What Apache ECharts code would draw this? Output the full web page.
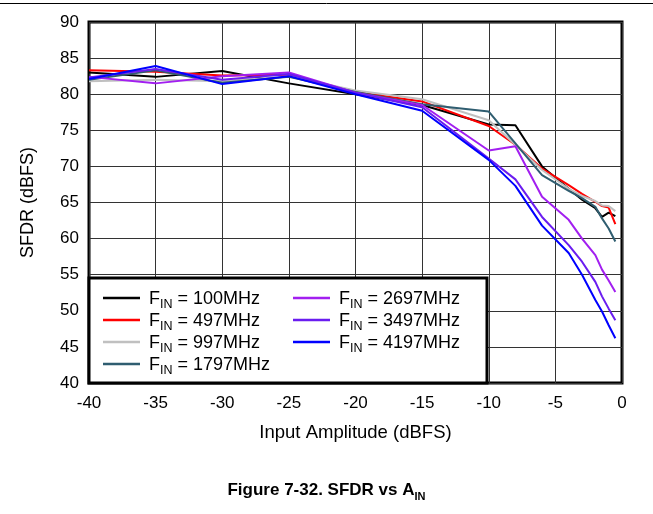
<!DOCTYPE html>
<html>
<head>
<meta charset="utf-8">
<script src="https://cdn.jsdelivr.net/npm/echarts@6/dist/echarts.min.js"></script>
<style>
html,body{margin:0;padding:0;background:#fff;}
#c{width:653px;height:514px;}
</style>
</head>
<body>
<div id="c"></div>
<script>
// Input amplitude (dBFS) sample points
const xValues = [-40, -35, -30, -25, -20, -15, -10, -8, -6, -4, -3, -2, -1.5, -1, -0.5];
// SFDR (dBFS) for each input frequency
const f100  = [83.0, 82.4, 83.2, 81.5, 80.0, 78.5, 75.8, 75.7, 70.0, 66.9, 65.4, 64.2, 63.0, 63.6, 63.1];
const f497  = [83.3, 83.1, 82.6, 82.7, 80.3, 79.0, 75.6, 73.0, 69.7, 67.4, 66.2, 65.1, 64.5, 64.3, 62.0];
const f997  = [81.8, 82.0, 81.8, 82.5, 80.5, 79.3, 76.4, 73.0, 69.5, 66.9, 65.9, 65.2, 64.6, 64.5, 63.8];
const f1797 = [82.0, 83.3, 81.6, 82.4, 80.3, 78.6, 77.6, 73.2, 68.8, 66.6, 65.6, 64.4, 62.8, 61.4, 59.6];
const f2697 = [82.4, 81.5, 82.5, 83.0, 80.2, 78.5, 72.2, 72.8, 65.8, 62.6, 60.0, 57.7, 55.7, 54.2, 52.6];
const f3497 = [82.3, 83.5, 82.0, 82.8, 80.2, 78.2, 71.1, 68.2, 63.0, 59.1, 56.8, 54.0, 52.0, 50.3, 48.7];
const f4197 = [82.1, 83.9, 81.4, 82.5, 80.0, 77.7, 70.9, 67.3, 61.8, 58.0, 55.0, 51.5, 49.9, 48.0, 46.2];
const seriesNames = ['100MHz', '497MHz', '997MHz', '1797MHz', '2697MHz', '3497MHz', '4197MHz'];
const seriesData = [f100, f497, f997, f1797, f2697, f3497, f4197];
const seriesColors = ['#000000', '#ff0000', '#c0c0c0', '#2f5d70', '#a21ff0', '#6a1cf0', '#0000ff'];
const xTicks = [-40, 0, 5];   // min, max, interval
const yTicks = [40, 90, 5];

const FONT = '"Liberation Sans", Arial, sans-serif';
const chart = echarts.init(document.getElementById('c'), null, {renderer: 'canvas'});

const series = seriesNames.map((n, i) => ({
  name: n,
  type: 'line',
  symbol: 'none',
  data: xValues.map((x, j) => [x, seriesData[i][j]]),
  lineStyle: {color: seriesColors[i], width: 2},
  itemStyle: {color: seriesColors[i]},
  z: 2 + i
}));

const richLegend = {
  f: {fontSize: 18, fontFamily: FONT, color: '#000', verticalAlign: 'bottom', lineHeight: 20},
  s: {fontSize: 12.5, fontFamily: FONT, color: '#000', verticalAlign: 'bottom', lineHeight: 14, padding: [0, 0, -3, 0]}
};
const legendCommon = {
  orient: 'vertical',
  icon: 'rect',
  itemWidth: 37,
  itemHeight: 2.5,
  itemGap: 1,
  z: 20,
  textStyle: {rich: richLegend, padding: [0, 0, 0, 4]},
  formatter: name => '{f|F}{s|IN}{f| = ' + name + '}'
};

chart.setOption({
  animation: false,
  backgroundColor: '#ffffff',
  grid: {left: 89, right: 31, top: 22, bottom: 131, show: true, borderColor: '#000', borderWidth: 3, backgroundColor: 'transparent'},
  xAxis: {
    type: 'value', min: xTicks[0], max: xTicks[1], interval: xTicks[2],
    name: 'Input Amplitude (dBFS)', nameLocation: 'middle', nameGap: 40,
    nameTextStyle: {fontSize: 18.5, fontFamily: FONT, color: '#000'},
    axisLine: {show: false}, axisTick: {show: false},
    axisLabel: {fontSize: 17, fontFamily: FONT, color: '#000', margin: 12},
    splitLine: {show: true, lineStyle: {color: '#333', width: 1}}
  },
  yAxis: {
    type: 'value', min: yTicks[0], max: yTicks[1], interval: yTicks[2],
    name: 'SFDR (dBFS)', nameLocation: 'middle', nameGap: 52,
    nameTextStyle: {fontSize: 18, fontFamily: FONT, color: '#000'},
    axisLine: {show: false}, axisTick: {show: false},
    axisLabel: {fontSize: 17, fontFamily: FONT, color: '#000', margin: 10},
    splitLine: {show: true, lineStyle: {color: '#333', width: 1}}
  },
  legend: [
    Object.assign({left: 98, top: 285, data: seriesNames.slice(0, 4)}, legendCommon),
    Object.assign({left: 288, top: 285, data: seriesNames.slice(4)}, legendCommon)
  ],
  graphic: [
    {type: 'line', shape: {x1: 0, y1: 3.5, x2: 653, y2: 3.5}, style: {stroke: '#000', lineWidth: 1}, z: 50},
    {type: 'rect', shape: {x: 89, y: 278, width: 398, height: 105}, style: {fill: '#fff', stroke: '#000', lineWidth: 3}, z: 10},
    {type: 'text', left: 'center', top: 482, z: 50,
      style: {rich: {
        t: {fontSize: 17, fontWeight: 'bold', fontFamily: FONT, fill: '#000', verticalAlign: 'bottom', lineHeight: 20},
        s: {fontSize: 11, fontWeight: 'bold', fontFamily: FONT, fill: '#000', verticalAlign: 'bottom', lineHeight: 14, padding: [0,0,-3,0]}
      }, text: '{t|Figure 7-32. SFDR vs A}{s|IN}'}}
  ],
  series: series
});
</script>
</body>
</html>
